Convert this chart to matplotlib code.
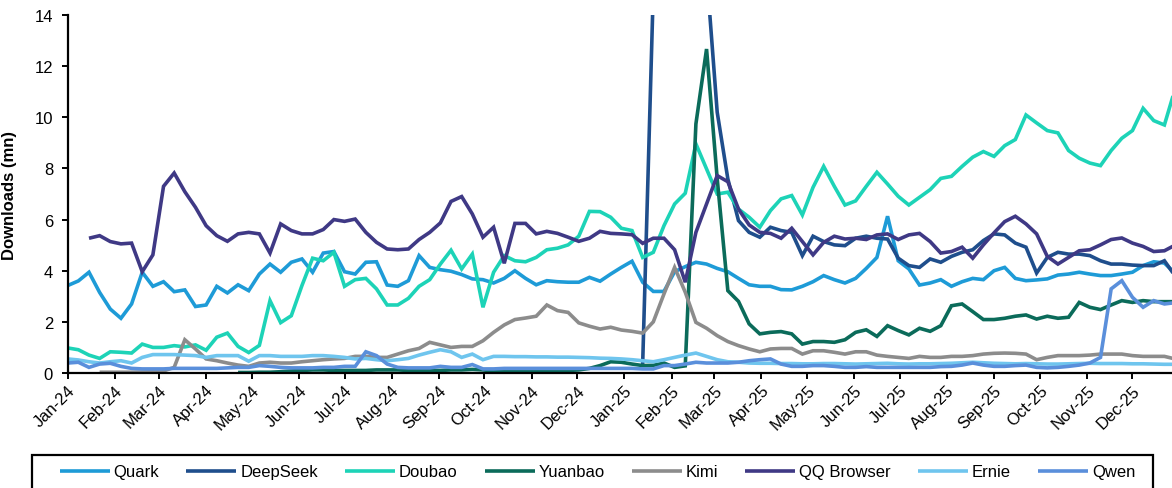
import numpy as np
import pandas as pd
import matplotlib
matplotlib.use("Agg")
import matplotlib.pyplot as plt
import matplotlib.dates as mdates
from matplotlib.patches import Rectangle

plt.rcParams['font.family'] = ['Liberation Sans', 'DejaVu Sans']

NaN = np.nan

# Weekly downloads (mn), one value per week starting 1 Jan 2024
weeks = pd.date_range('2024-01-01', periods=105, freq='7D')

quark = [
    3.42, 3.60, 3.94, 3.15, 2.50, 2.14, 2.70, 3.94, 3.39, 3.57,
    3.18, 3.25, 2.60, 2.66, 3.39, 3.13, 3.45, 3.22, 3.87, 4.26,
    3.94, 4.33, 4.46, 3.94, 4.69, 4.75, 3.96, 3.87, 4.33, 4.35,
    3.44, 3.39, 3.61, 4.59, 4.13, 4.04, 3.98, 3.85, 3.68, 3.65,
    3.52, 3.70, 4.00, 3.70, 3.45, 3.61, 3.57, 3.55, 3.55, 3.74,
    3.59, 3.87, 4.13, 4.37, 3.55, 3.19, 3.19, 3.96, 4.16, 4.33,
    4.26, 4.09, 3.96, 3.70, 3.45, 3.39, 3.39, 3.26, 3.25, 3.39,
    3.57, 3.81, 3.65, 3.52, 3.70, 4.09, 4.52, 6.13, 4.39, 4.07,
    3.44, 3.52, 3.65, 3.39, 3.57, 3.70, 3.65, 4.00, 4.13, 3.70,
    3.61, 3.64, 3.68, 3.83, 3.87, 3.94, 3.87, 3.81, 3.81, 3.87,
    3.94, 4.20, 4.35, 4.30, 3.90,
]

deepseek = [NaN] * 54 + [
    0.35, 15.0, 31.0, 38.0, 33.0, 24.0, 15.7, 10.2, 7.59, 5.96,
    5.50, 5.31, 5.70, 5.57, 5.50, 4.59, 5.35, 5.14, 5.01, 4.98,
    5.27, 5.35, 5.27, 5.24, 4.49, 4.20, 4.13, 4.46, 4.33, 4.56,
    4.72, 4.82, 5.18, 5.44, 5.40, 5.08, 4.92, 3.91, 4.52, 4.72,
    4.65, 4.65, 4.59, 4.39, 4.26, 4.26, 4.22, 4.20, 4.20, 4.39,
    3.80,
]

doubao = [
    0.98, 0.91, 0.70, 0.57, 0.83, 0.81, 0.78, 1.13, 1.00, 1.00,
    1.07, 1.02, 1.10, 0.89, 1.40, 1.56, 1.04, 0.80, 1.08, 2.83,
    1.97, 2.24, 3.42, 4.49, 4.39, 4.72, 3.39, 3.65, 3.70, 3.29,
    2.66, 2.66, 2.92, 3.39, 3.65, 4.26, 4.80, 4.07, 4.65, 2.57,
    3.94, 4.59, 4.39, 4.35, 4.52, 4.82, 4.88, 5.01, 5.35, 6.32,
    6.31, 6.09, 5.66, 5.57, 4.52, 4.72, 5.76, 6.61, 7.03, 8.96,
    7.98, 7.00, 7.07, 6.41, 6.09, 5.70, 6.35, 6.81, 6.94, 6.18,
    7.26, 8.08, 7.30, 6.57, 6.73, 7.30, 7.85, 7.39, 6.91, 6.57,
    6.87, 7.17, 7.61, 7.69, 8.08, 8.44, 8.66, 8.47, 8.89, 9.13,
    10.09, 9.78, 9.48, 9.39, 8.70, 8.40, 8.21, 8.11, 8.70, 9.18,
    9.48, 10.35, 9.87, 9.70, 11.10,
]

yuanbao = [NaN] * 16 + [
    0.02, 0.02, 0.03, 0.03, 0.05, 0.08, 0.10, 0.12, 0.12, 0.10,
    0.10, 0.10, 0.10, 0.12, 0.12, 0.12, 0.10, 0.10, 0.10, 0.10,
    0.12, 0.12, 0.14, 0.12, 0.08, 0.08, 0.08, 0.08, 0.08, 0.08,
    0.08, 0.10, 0.12, 0.18, 0.29, 0.44, 0.42, 0.35, 0.29, 0.30,
    0.39, 0.22, 0.28, 9.74, 12.67, 7.60, 3.22, 2.80, 1.92, 1.53,
    1.59, 1.62, 1.53, 1.13, 1.23, 1.23, 1.20, 1.30, 1.59, 1.69,
    1.43, 1.85, 1.66, 1.49, 1.75, 1.63, 1.85, 2.63, 2.70, 2.40,
    2.09, 2.09, 2.14, 2.22, 2.27, 2.11, 2.22, 2.14, 2.18, 2.76,
    2.57, 2.48, 2.66, 2.83, 2.76, 2.83, 2.79, 2.79, 2.79,
]

kimi = [NaN] * 3 + [
    0.03, 0.03, 0.03, 0.03, 0.04, 0.05, 0.08, 0.22, 1.30, 0.94,
    0.55, 0.48, 0.39, 0.31, 0.26, 0.39, 0.42, 0.39, 0.39, 0.44,
    0.48, 0.52, 0.55, 0.57, 0.65, 0.65, 0.61, 0.61, 0.74, 0.87,
    0.96, 1.20, 1.10, 1.00, 1.04, 1.04, 1.26, 1.59, 1.88, 2.09,
    2.15, 2.22, 2.66, 2.44, 2.37, 1.96, 1.83, 1.72, 1.79, 1.68,
    1.63, 1.56, 2.00, 3.09, 4.13, 3.16, 1.98, 1.75, 1.46, 1.23,
    1.07, 0.94, 0.83, 0.94, 0.96, 0.96, 0.74, 0.87, 0.87, 0.81,
    0.74, 0.83, 0.83, 0.70, 0.65, 0.61, 0.57, 0.65, 0.61, 0.61,
    0.65, 0.65, 0.68, 0.74, 0.77, 0.78, 0.77, 0.74, 0.52, 0.61,
    0.68, 0.68, 0.68, 0.70, 0.74, 0.74, 0.74, 0.68, 0.65, 0.65,
    0.65, 0.55,
]

qq_browser = [NaN] * 2 + [
    5.27, 5.37, 5.14, 5.05, 5.08, 3.96, 4.62, 7.30, 7.82, 7.09,
    6.48, 5.76, 5.37, 5.15, 5.44, 5.50, 5.44, 4.69, 5.83, 5.57,
    5.44, 5.44, 5.61, 6.00, 5.93, 6.02, 5.50, 5.11, 4.85, 4.82,
    4.85, 5.22, 5.50, 5.87, 6.71, 6.90, 6.22, 5.31, 5.70, 4.29,
    5.85, 5.85, 5.44, 5.54, 5.46, 5.31, 5.15, 5.27, 5.54, 5.46,
    5.44, 5.41, 5.07, 5.27, 5.27, 4.82, 3.55, 5.50, 6.61, 7.72,
    7.48, 6.41, 5.79, 5.50, 5.46, 5.27, 5.66, 5.14, 4.62, 5.11,
    5.35, 5.24, 5.27, 5.22, 5.40, 5.44, 5.22, 5.40, 5.46, 5.14,
    4.69, 4.75, 4.92, 4.49, 5.01, 5.48, 5.92, 6.13, 5.83, 5.44,
    4.56, 4.26, 4.52, 4.78, 4.82, 5.01, 5.22, 5.28, 5.08, 4.95,
    4.75, 4.78, 5.00,
]

ernie = [
    0.55, 0.51, 0.44, 0.39, 0.44, 0.48, 0.39, 0.61, 0.72, 0.72,
    0.72, 0.70, 0.68, 0.61, 0.68, 0.68, 0.68, 0.46, 0.68, 0.68,
    0.65, 0.65, 0.65, 0.68, 0.68, 0.65, 0.61, 0.55, 0.57, 0.52,
    0.48, 0.52, 0.57, 0.70, 0.81, 0.91, 0.83, 0.61, 0.74, 0.52,
    0.65, 0.65, 0.64, 0.64, 0.63, 0.63, 0.62, 0.62, 0.61, 0.60,
    0.58, 0.57, 0.55, 0.52, 0.48, 0.44, 0.52, 0.61, 0.70, 0.78,
    0.65, 0.52, 0.44, 0.42, 0.39, 0.38, 0.38, 0.37, 0.37, 0.36,
    0.36, 0.37, 0.37, 0.36, 0.35, 0.36, 0.37, 0.38, 0.36, 0.35,
    0.36, 0.36, 0.37, 0.38, 0.40, 0.42, 0.40, 0.38, 0.37, 0.36,
    0.37, 0.36, 0.35, 0.35, 0.36, 0.37, 0.38, 0.37, 0.37, 0.37,
    0.36, 0.36, 0.35, 0.34, 0.34,
]

qwen = [
    0.39, 0.42, 0.22, 0.35, 0.38, 0.26, 0.18, 0.16, 0.16, 0.16,
    0.18, 0.18, 0.18, 0.18, 0.18, 0.20, 0.22, 0.22, 0.29, 0.26,
    0.22, 0.20, 0.20, 0.20, 0.22, 0.22, 0.26, 0.26, 0.83, 0.68,
    0.35, 0.22, 0.20, 0.20, 0.20, 0.26, 0.22, 0.22, 0.33, 0.16,
    0.16, 0.18, 0.18, 0.18, 0.18, 0.18, 0.18, 0.18, 0.18, 0.18,
    0.18, 0.18, 0.18, 0.18, 0.16, 0.16, 0.29, 0.29, 0.35, 0.42,
    0.39, 0.39, 0.39, 0.42, 0.48, 0.52, 0.55, 0.35, 0.26, 0.26,
    0.29, 0.29, 0.26, 0.22, 0.22, 0.25, 0.22, 0.22, 0.22, 0.22,
    0.22, 0.22, 0.25, 0.26, 0.31, 0.39, 0.31, 0.26, 0.26, 0.29,
    0.31, 0.22, 0.20, 0.22, 0.26, 0.31, 0.39, 0.61, 3.29, 3.61,
    2.96, 2.57, 2.83, 2.70, 2.75,
]

series_names = ['Quark', 'DeepSeek', 'Doubao', 'Yuanbao', 'Kimi',
                'QQ Browser', 'Ernie', 'Qwen']
series_values = [quark, deepseek, doubao, yuanbao, kimi,
                 qq_browser, ernie, qwen]
series_colors = ['#1E9BD7', '#1F4E8C', '#1DD3B7', '#0B6B5A', '#8C8C8C',
                 '#3F3985', '#6FC5EE', '#5A8FDB']

y_ticks = [0, 2, 4, 6, 8, 10, 12, 14]

W, H = 1172, 489
fig = plt.figure(figsize=(W / 100, H / 100), dpi=100)
ax = fig.add_axes([67.7 / W, (H - 374) / H, (W - 67.7) / W, (374 - 16) / H])

for name, vals, col in zip(series_names, series_values, series_colors):
    ax.plot(weeks, vals, color=col, lw=2.6, label=name,
            solid_joinstyle='miter', solid_capstyle='butt')

ax.set_ylim(0, 14)
ax.set_yticks(y_ticks)
ax.set_xlim(pd.Timestamp('2024-01-01'), pd.Timestamp('2025-12-27'))
ax.xaxis.set_major_locator(mdates.MonthLocator())
ax.xaxis.set_major_formatter(mdates.DateFormatter('%b-%y'))

for side in ('top', 'right'):
    ax.spines[side].set_visible(False)
for side in ('left', 'bottom'):
    ax.spines[side].set_linewidth(1.6)
    ax.spines[side].set_color('black')

ax.tick_params(axis='both', direction='out', length=4.5, width=1.4,
               colors='black', labelsize=12)
ax.tick_params(axis='y', pad=6)
ax.tick_params(axis='x', pad=2)
for lbl in ax.get_xticklabels():
    lbl.set_rotation(45)
    lbl.set_ha('right')
    lbl.set_rotation_mode('anchor')

ax.set_ylabel('Downloads (mn)', fontsize=12, fontweight='bold')
ax.yaxis.set_label_coords((17 - 67.7) / (W - 67.7), 0.5)

leg = fig.legend(loc='center', bbox_to_anchor=(597.5 / W, (H - 473) / H),
                 ncol=8, frameon=False, fontsize=12, handlelength=3.0,
                 handletextpad=0.25, columnspacing=1.61, borderpad=0)
for line in leg.get_lines():
    line.set_linewidth(2.6)

# Box around the legend row
fig.patches.append(Rectangle((32 / W, -0.2), (1153 - 32) / W, 0.2 + (H - 456) / H,
                             transform=fig.transFigure, fill=False,
                             edgecolor='black', lw=1.6))

fig.savefig('out.png', dpi=100)
